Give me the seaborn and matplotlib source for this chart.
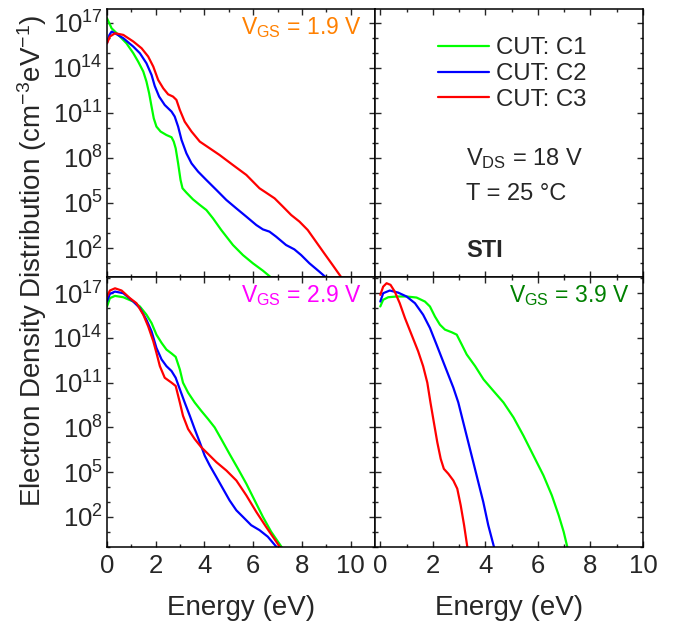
import numpy as np
import pandas as pd
import matplotlib
matplotlib.use('Agg')
import matplotlib.pyplot as plt
import seaborn as sns
from matplotlib.ticker import FixedLocator, LogFormatterMathtext, MultipleLocator, NullFormatter
from matplotlib.lines import Line2D

# curves: energy (eV) and log10 of density (cm^-3 eV^-1)
# V_GS = 1.9 V
e19_c1 = [0.0, 0.19, 0.40, 0.80, 1.08, 1.28, 1.49, 1.62, 1.73, 1.83, 1.92, 2.03, 2.20, 2.44, 2.65, 2.74, 2.82,
          2.92, 3.02, 3.10, 3.26, 3.53, 3.81, 4.08, 4.35, 4.69, 5.17, 5.58, 5.99, 6.40, 6.80]
n19_c1 = [17.31, 16.64, 16.31, 15.64, 14.98, 14.42, 13.76, 13.09, 12.31, 11.42, 10.64, 10.09, 9.76, 9.53, 9.38,
          9.09, 8.64, 7.64, 6.53, 5.98, 5.69, 5.24, 4.87, 4.53, 3.98, 3.2, 2.2, 1.53, 0.98, 0.49, -0.05]
e19_c2 = [0.0, 0.10, 0.19, 0.33, 0.67, 1.08, 1.35, 1.62, 1.83, 1.96, 2.14, 2.37, 2.65, 2.78, 2.92, 3.06, 3.26,
          3.47, 3.74, 4.08, 4.49, 4.90, 5.31, 5.72, 6.13, 6.40, 6.67, 6.94, 7.35, 7.69, 7.97, 8.31, 8.72, 9.05]
n19_c2 = [15.64, 16.2, 16.42, 16.31, 15.98, 15.42, 14.98, 14.31, 13.53, 12.8, 12.09, 11.53, 11.09, 10.76, 10.09,
          9.2, 8.31, 7.64, 7.09, 6.53, 5.87, 5.2, 4.64, 4.09, 3.53, 3.24, 3.09, 2.76, 2.2, 1.91, 1.53, 0.98, 0.42, -0.05]
e19_c3 = [0.0, 0.12, 0.33, 0.67, 1.08, 1.42, 1.69, 1.90, 2.10, 2.31, 2.51, 2.71, 2.85, 2.99, 3.19, 3.47, 3.81,
          4.22, 4.62, 5.17, 5.72, 6.26, 6.53, 6.88, 7.22, 7.56, 7.90, 8.24, 8.58, 8.92, 9.26, 9.66]
n19_c3 = [15.64, 16.09, 16.31, 16.2, 15.76, 15.31, 14.76, 14.09, 13.2, 12.64, 12.24, 12.09, 11.87, 11.2, 10.42,
          9.76, 9.09, 8.64, 8.2, 7.53, 6.87, 5.98, 5.69, 5.31, 4.76, 4.2, 3.76, 3.2, 2.42, 1.64, 0.87, -0.05]

# V_GS = 2.9 V
e29_c1 = [0.0, 0.12, 0.33, 0.67, 1.08, 1.35, 1.62, 1.83, 2.03, 2.24, 2.44, 2.65, 2.82, 2.99, 3.12, 3.33, 3.60,
          3.87, 4.15, 4.42, 4.69, 5.03, 5.38, 5.72, 6.06, 6.40, 6.74, 7.20]
n29_c1 = [16.11, 16.67, 16.82, 16.73, 16.44, 16.11, 15.56, 15.0, 14.22, 13.67, 13.22, 12.96, 12.73, 11.89, 11.0,
          10.33, 9.67, 9.11, 8.56, 8.0, 7.22, 6.22, 5.22, 4.22, 3.11, 2.0, 1.0, -0.1]
e29_c2 = [0.0, 0.12, 0.33, 0.67, 1.08, 1.35, 1.62, 1.83, 2.03, 2.24, 2.44, 2.65, 2.82, 2.99, 3.19, 3.40, 3.60,
          3.81, 4.01, 4.22, 4.49, 4.76, 5.03, 5.31, 5.58, 5.92, 6.26, 6.60, 7.00]
n29_c2 = [16.44, 16.96, 17.11, 17.0, 16.44, 16.0, 15.22, 14.44, 13.33, 12.56, 12.11, 11.78, 11.33, 10.56, 9.67,
          8.78, 7.89, 7.0, 6.11, 5.44, 4.67, 3.89, 3.11, 2.44, 2.0, 1.44, 1.11, 0.67, -0.1]
e29_c3 = [0.0, 0.12, 0.33, 0.60, 0.94, 1.21, 1.49, 1.69, 1.90, 2.03, 2.17, 2.37, 2.65, 2.82, 2.99, 3.12, 3.33,
          3.60, 3.87, 4.15, 4.49, 4.90, 5.31, 5.72, 6.13, 6.53, 7.13]
n29_c3 = [16.78, 17.18, 17.33, 17.18, 16.67, 16.33, 15.56, 14.78, 13.78, 13.0, 12.11, 11.33, 11.0, 10.78, 9.67,
          8.78, 7.89, 7.22, 6.67, 6.22, 5.67, 5.11, 4.44, 3.44, 2.33, 1.33, -0.1]

# V_GS = 3.9 V
e39_c1 = [0.0, 0.11, 0.30, 0.62, 1.0, 1.38, 1.70, 1.89, 2.08, 2.27, 2.46, 2.72, 2.91, 3.10, 3.29, 3.61, 3.93,
          4.31, 4.69, 5.07, 5.45, 5.83, 6.21, 6.53, 6.79, 6.98, 7.13]
n39_c1 = [16.11, 16.56, 16.73, 16.78, 16.78, 16.71, 16.44, 16.11, 15.44, 14.89, 14.56, 14.38, 14.22, 13.56, 12.89,
          12.11, 11.22, 10.44, 9.67, 8.67, 7.44, 6.11, 4.78, 3.44, 2.11, 1.0, -0.1]
e39_c2 = [0.0, 0.11, 0.36, 0.68, 1.0, 1.32, 1.63, 1.89, 2.14, 2.46, 2.78, 2.97, 3.16, 3.35, 3.54, 3.73, 3.92,
          4.11, 4.34]
n39_c2 = [16.44, 17.0, 17.18, 17.04, 16.78, 16.33, 15.56, 14.67, 13.56, 12.11, 10.67, 9.67, 8.33, 7.0, 5.67,
          4.33, 3.0, 1.44, -0.1]
e39_c3 = [0.0, 0.11, 0.24, 0.39, 0.55, 0.74, 0.94, 1.19, 1.44, 1.63, 1.79, 1.91, 2.04, 2.17, 2.30, 2.42, 2.59,
          2.78, 2.93, 3.06, 3.19, 3.32]
n39_c3 = [16.89, 17.44, 17.67, 17.56, 17.11, 16.33, 15.33, 14.22, 13.11, 12.11, 11.0, 9.67, 8.33, 7.0, 5.89,
          5.22, 4.89, 4.44, 3.89, 2.78, 1.44, -0.1]

cut_names = ['CUT: C1', 'CUT: C2', 'CUT: C3']
cut_colors = ['#00ff00', '#0000ff', '#ff0000']

sns.set_style('ticks')
plt.rcParams['font.family'] = ['Liberation Sans', 'DejaVu Sans']
plt.rcParams['mathtext.fontset'] = 'custom'
plt.rcParams['mathtext.rm'] = 'Liberation Sans'
plt.rcParams['mathtext.it'] = 'Liberation Sans:italic'
plt.rcParams['mathtext.bf'] = 'Liberation Sans:bold'

fig = plt.figure(figsize=(6.75, 6.21), dpi=100)

ax_tl = fig.add_axes([0.1585, 0.5540, 0.397, 0.4316])
ax_tr = fig.add_axes([0.5556, 0.5540, 0.397, 0.4316])
ax_bl = fig.add_axes([0.1585, 0.1192, 0.397, 0.4348])
ax_br = fig.add_axes([0.5556, 0.1192, 0.397, 0.4348])


def draw_panel(ax, es, ns):
    for e, n, name, col in zip(es, ns, cut_names, cut_colors):
        df = pd.DataFrame({'E': e, 'n': 10.0 ** np.array(n)})
        sns.lineplot(data=df, x='E', y='n', color=col, lw=1.6, sort=False, ax=ax, label=name)
    ax.get_legend().remove()


draw_panel(ax_tl, [e19_c1, e19_c2, e19_c3], [n19_c1, n19_c2, n19_c3])
draw_panel(ax_bl, [e29_c1, e29_c2, e29_c3], [n29_c1, n29_c2, n29_c3])
draw_panel(ax_br, [e39_c1, e39_c2, e39_c3], [n39_c1, n39_c2, n39_c3])

for ax in [ax_tl, ax_tr, ax_bl, ax_br]:
    ax.set_yscale('log')
    ax.yaxis.set_major_locator(FixedLocator([1e2, 1e5, 1e8, 1e11, 1e14, 1e17]))
    ax.yaxis.set_minor_locator(FixedLocator([10.0 ** k for k in range(0, 19)]))
    ax.yaxis.set_major_formatter(LogFormatterMathtext())
    ax.yaxis.set_minor_formatter(NullFormatter())
    ax.xaxis.set_major_locator(MultipleLocator(2))
    ax.xaxis.set_minor_locator(MultipleLocator(1))
    ax.tick_params(which='both', direction='in', top=True, right=True, width=1.0)
    ax.tick_params(which='major', length=4, labelsize=18.5)
    ax.tick_params(which='minor', length=2.5)
    for s in ax.spines.values():
        s.set_linewidth(1.1)
        s.set_color('black')
    ax.set_xlabel('')
    ax.set_ylabel('')

ax_tl.set_xlim(0, 11)
ax_bl.set_xlim(0, 11)
ax_tr.set_xlim(-0.2, 10)
ax_br.set_xlim(-0.2, 10)
ax_tl.set_ylim(10 ** 0.07, 10 ** 17.93)
ax_tr.set_ylim(10 ** 0.07, 10 ** 17.93)
ax_bl.set_ylim(10 ** -0.02, 10 ** 18.09)
ax_br.set_ylim(10 ** -0.02, 10 ** 18.09)

ax_tl.tick_params(labelbottom=False)
ax_tr.tick_params(labelbottom=False, labelleft=False)
ax_br.tick_params(labelleft=False)
ax_tl.tick_params(axis='y', pad=3)
ax_bl.tick_params(axis='y', pad=3)
ax_bl.tick_params(axis='x', pad=5)
ax_br.tick_params(axis='x', pad=5)

ax_bl.set_xlabel('Energy (eV)', fontsize=20, labelpad=12)
ax_br.set_xlabel('Energy (eV)', fontsize=20, labelpad=12)

fig.text(0.047, 0.58, 'Electron Density Distribution (cm$^{-3}$eV$^{-1}$)',
         rotation=90, ha='center', va='center', fontsize=20)

ax_tl.text(0.95, 0.93, r'$\mathregular{V_{GS}}$ = 1.9 V', transform=ax_tl.transAxes,
           ha='right', va='center', fontsize=16.5, color='#ff8000')
ax_bl.text(0.95, 0.93, r'$\mathregular{V_{GS}}$ = 2.9 V', transform=ax_bl.transAxes,
           ha='right', va='center', fontsize=16.5, color='#ff00ff')
ax_br.text(0.95, 0.93, r'$\mathregular{V_{GS}}$ = 3.9 V', transform=ax_br.transAxes,
           ha='right', va='center', fontsize=16.5, color='#008000')

handles = [Line2D([], [], color=c, lw=1.6) for c in cut_colors]
ax_tr.legend(handles, cut_names, loc='upper left', bbox_to_anchor=(0.2, 0.93),
             frameon=False, fontsize=17.3, handlelength=2.1, handletextpad=0.3,
             labelspacing=0.15, borderaxespad=0)

ax_tr.text(0.34, 0.44, r'$\mathregular{V_{DS}}$ = 18 V', transform=ax_tr.transAxes,
           ha='left', va='center', fontsize=17)
ax_tr.text(0.34, 0.31, 'T = 25 °C', transform=ax_tr.transAxes,
           ha='left', va='center', fontsize=17)
ax_tr.text(0.34, 0.10, 'STI', transform=ax_tr.transAxes,
           ha='left', va='center', fontsize=17, fontweight='bold')

fig.savefig('out.png', dpi=100)
